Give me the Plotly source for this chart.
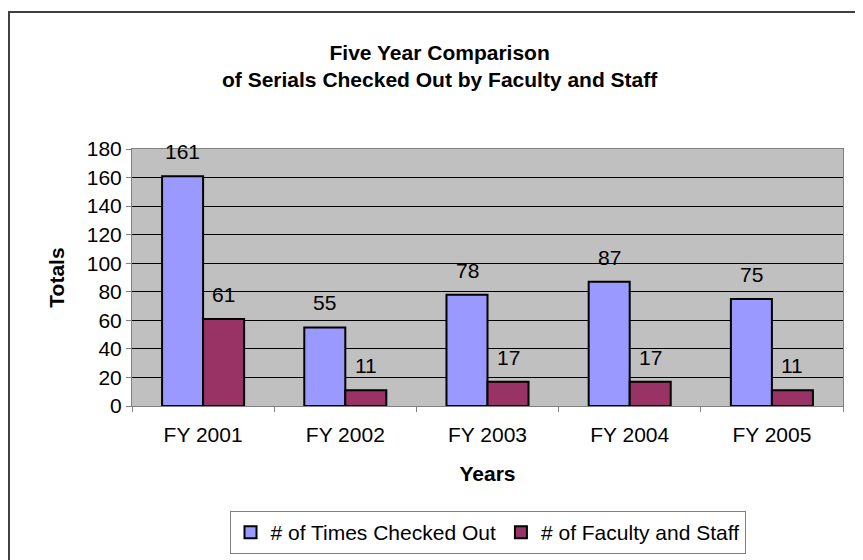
import plotly.graph_objects as go

# ---- data ----
categories = ["FY 2001", "FY 2002", "FY 2003", "FY 2004", "FY 2005"]
times_checked_out = [161, 55, 78, 87, 75]
faculty_and_staff = [61, 11, 17, 17, 11]
series_names = ["# of Times Checked Out", "# of Faculty and Staff"]
y_ticks = [0, 20, 40, 60, 80, 100, 120, 140, 160, 180]
title_text = "Five Year Comparison<br>of Serials Checked Out by Faculty and Staff"

# ---- layout geometry (pixels) ----
OFF = 8  # page body margin
W, H = 855, 552
L, R, T, B = 124, 20, 141, 154
PW, PH = W - L - R, H - T - B
FONT = "Liberation Sans, Arial, Helvetica, sans-serif"

def px_x(screen):
    return (screen - OFF - L) / PW

def px_y(screen):
    return (H - B - (screen - OFF)) / PH

fig = go.Figure()
fig.add_trace(go.Bar(
    x=categories, y=times_checked_out, name=series_names[0],
    marker=dict(color="#9999FF", line=dict(color="black", width=2)),
))
fig.add_trace(go.Bar(
    x=categories, y=faculty_and_staff, name=series_names[1],
    marker=dict(color="#993366", line=dict(color="black", width=2)),
))

# data labels above bars
bar_half = 20.5
annotations = []
for vals, shift in ((times_checked_out, -bar_half), (faculty_and_staff, bar_half)):
    for c, v in zip(categories, vals):
        annotations.append(dict(
            x=c, y=v, xref="x", yref="y", text=str(v), showarrow=False,
            xanchor="center", yanchor="bottom", xshift=shift, yshift=11,
            font=dict(family=FONT, size=21, color="black"),
        ))

# chart title (two lines, centred on the chart area)
annotations.append(dict(
    text=title_text, showarrow=False,
    xref="paper", yref="paper", x=px_x(440), y=px_y(66),
    xanchor="center", yanchor="middle", align="center",
    font=dict(family=FONT, size=21, color="black", weight="bold"),
))

fig.update_layout(
    width=W, height=H,
    margin=dict(l=L, r=R, t=T, b=B, autoexpand=False),
    paper_bgcolor="white", plot_bgcolor="#C0C0C0",
    barmode="group", bargap=0.423, bargroupgap=0,
    font=dict(family=FONT, size=21, color="black"),
    xaxis=dict(
        type="category", showgrid=False, zeroline=False,
        showline=True, linecolor="#808080", linewidth=1, mirror=True,
        ticks="outside", tickson="boundaries", ticklen=5, tickcolor="#808080",
        tickfont=dict(family=FONT, size=21, color="black"),
        ticklabelstandoff=10,
        title=dict(text="Years", standoff=21,
                   font=dict(family=FONT, size=21, color="black", weight="bold")),
    ),
    yaxis=dict(
        range=[0, 180], tickvals=y_ticks, showgrid=True, gridcolor="black", gridwidth=1,
        zeroline=False, showline=True, linecolor="#808080", linewidth=1, mirror=True,
        ticks="outside", ticklen=5, tickcolor="#808080",
        tickfont=dict(family=FONT, size=21, color="black"),
        title=dict(text="Totals", standoff=16,
                   font=dict(family=FONT, size=21, color="black", weight="bold")),
    ),
    legend=dict(
        orientation="h", x=0.5, xanchor="center", y=px_y(511), yanchor="top",
        bordercolor="#808080", borderwidth=1, bgcolor="white",
        font=dict(family=FONT, size=21, color="black"),
        traceorder="normal",
    ),
    annotations=annotations,
    shapes=[dict(
        type="rect", xref="paper", yref="paper",
        x0=px_x(OFF + 1), x1=px_x(OFF + W + 20), y0=px_y(OFF + H + 20), y1=px_y(12),
        line=dict(color="#404040", width=2), fillcolor="rgba(0,0,0,0)", layer="above",
    )],
)

fig.write_html("out.html")
